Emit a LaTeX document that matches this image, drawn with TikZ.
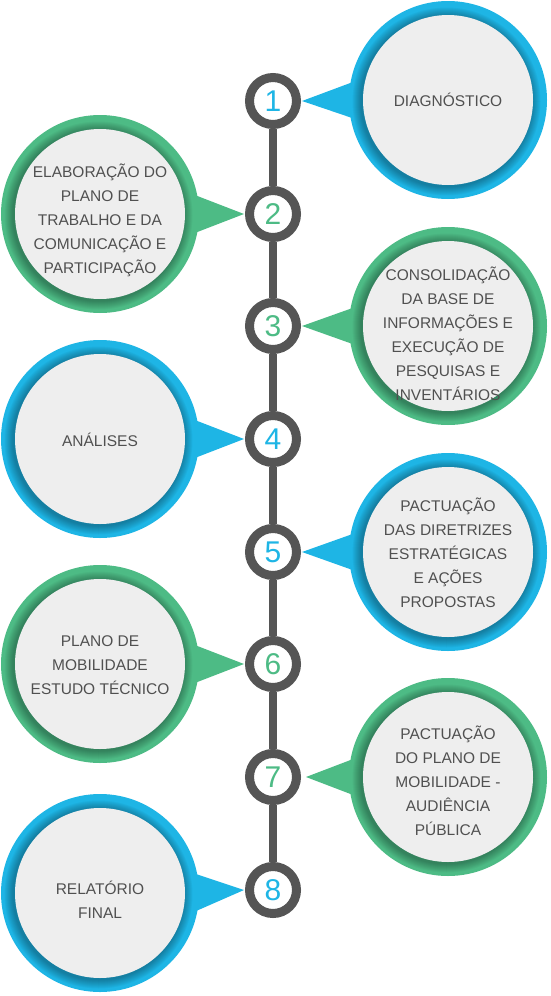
\documentclass[tikz,border=0pt]{standalone}
\usepackage{fontspec}
\setmainfont{Liberation Sans}
\usetikzlibrary{backgrounds}
% palette of the timeline
\definecolor{stepBlue}{HTML}{1EB5E5}
\definecolor{stepGreen}{HTML}{4DBB85}
\definecolor{stepLine}{HTML}{555555}
\definecolor{stepFill}{HTML}{EEEEEE}
\definecolor{stepText}{HTML}{505050}
\begin{document}
\begin{tikzpicture}[x=1pt, y=-1pt,
  numdot/.style={circle, draw=stepLine, line width=9pt, fill=white, minimum size=47pt,
    inner sep=0pt, text=#1, font=\fontsize{30}{30}\selectfont},
  bubble/.style={circle, fill=#1, minimum size=198pt, inner sep=0pt},
  bubbletext/.style={align=center, text=stepText, font=\fontsize{15.5}{24}\selectfont},
  pointer/.style={fill=#1}]
% page frame
\useasboundingbox (0,0) rectangle (551,996);
% Numbered stops on the line
\node[numdot=stepBlue]  (n1) at (273,101) {1};
\node[numdot=stepGreen] (n2) at (273,214) {2};
\node[numdot=stepGreen] (n3) at (273,326) {3};
\node[numdot=stepBlue]  (n4) at (273,439) {4};
\node[numdot=stepBlue]  (n5) at (273,552) {5};
\node[numdot=stepGreen] (n6) at (273,664) {6};
\node[numdot=stepGreen] (n7) at (273,777) {7};
\node[numdot=stepBlue]  (n8) at (273,890) {8};
% Coloured rings of the bubbles
\node[bubble=stepBlue]  (c1) at (448,100) {};
\node[bubble=stepGreen] (c2) at (100,214) {};
\node[bubble=stepGreen] (c3) at (448,326) {};
\node[bubble=stepBlue]  (c4) at (100,439) {};
\node[bubble=stepBlue]  (c5) at (448,552) {};
\node[bubble=stepGreen] (c6) at (100,664) {};
\node[bubble=stepGreen] (c7) at (448,777) {};
\node[bubble=stepBlue]  (c8) at (100,893) {};
\begin{scope}[on background layer]
  % Vertical line
  \begin{scope}[draw=stepLine, line width=8pt]
    \draw (n1) -- (n2);
    \draw (n2) -- (n3);
    \draw (n3) -- (n4);
    \draw (n4) -- (n5);
    \draw (n5) -- (n6);
    \draw (n6) -- (n7);
    \draw (n7) -- (n8);
  \end{scope}
  % Pointers from the bubbles to the stops
  \fill[pointer=stepBlue]  ([xshift=1pt]n1.east) -- ([shift={(-87,-21)}]c1.center) -- ([shift={(-87,21)}]c1.center) -- cycle;
  \fill[pointer=stepGreen] ([xshift=-1pt]n2.west) -- ([shift={(87,-22)}]c2.center) -- ([shift={(87,22)}]c2.center) -- cycle;
  \fill[pointer=stepGreen] ([xshift=1pt]n3.east) -- ([shift={(-87,-21)}]c3.center) -- ([shift={(-87,21)}]c3.center) -- cycle;
  \fill[pointer=stepBlue]  ([xshift=-1pt]n4.west) -- ([shift={(87,-22)}]c4.center) -- ([shift={(87,22)}]c4.center) -- cycle;
  \fill[pointer=stepBlue]  ([xshift=1pt]n5.east) -- ([shift={(-87,-21)}]c5.center) -- ([shift={(-87,21)}]c5.center) -- cycle;
  \fill[pointer=stepGreen] ([xshift=-1pt]n6.west) -- ([shift={(87,-22)}]c6.center) -- ([shift={(87,22)}]c6.center) -- cycle;
  \fill[pointer=stepGreen] ([xshift=5pt]n7.east) -- ([shift={(-87,-21)}]c7.center) -- ([shift={(-87,21)}]c7.center) -- cycle;
  \fill[pointer=stepBlue]  ([xshift=-1pt]n8.west) -- ([shift={(87,-22)}]c8.center) -- ([shift={(87,22)}]c8.center) -- cycle;
\end{scope}
% Inner shadow and grey face of every bubble
\foreach \k in {1,...,8} {
  \foreach \r in {94,93,...,86}
    \fill[black, opacity=0.035] ([shift={(-1.5,1.5)}]c\k.center) circle (\r pt);
  \fill[stepFill] (c\k.center) circle (85pt);
}
% Texts
\node[bubbletext] (t1) at ([yshift=0pt]c1.center) {DIAGNÓSTICO};
\node[bubbletext] (t2) at ([yshift=-6pt]c2.center) {ELABORAÇÃO DO\\PLANO DE\\TRABALHO E DA\\COMUNICAÇÃO E\\PARTICIPAÇÃO};
\node[bubbletext] (t3) at ([yshift=-8pt]c3.center) {CONSOLIDAÇÃO\\DA BASE DE\\INFORMAÇÕES E\\EXECUÇÃO DE\\PESQUISAS E\\INVENTÁRIOS};
\node[bubbletext] (t4) at ([yshift=-1pt]c4.center) {ANÁLISES};
\node[bubbletext] (t5) at ([yshift=-1pt]c5.center) {PACTUAÇÃO\\DAS DIRETRIZES\\ESTRATÉGICAS\\E AÇÕES\\PROPOSTAS};
\node[bubbletext] (t6) at ([yshift=-1pt]c6.center) {PLANO DE\\MOBILIDADE\\ESTUDO TÉCNICO};
\node[bubbletext] (t7) at ([yshift=-4pt]c7.center) {PACTUAÇÃO\\DO PLANO DE\\MOBILIDADE -\\AUDIÊNCIA\\PÚBLICA};
\node[bubbletext] (t8) at ([yshift=-7pt]c8.center) {RELATÓRIO\\FINAL};
\end{tikzpicture}
\end{document}
